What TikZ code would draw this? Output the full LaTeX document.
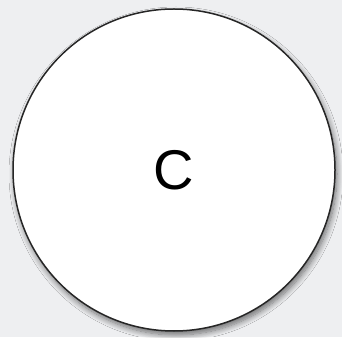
\documentclass[tikz,border=0pt]{standalone}
\usepackage{fontspec}
\setmainfont{Liberation Sans}
\usetikzlibrary{shadows.blur}
\definecolor{pagegray}{RGB}{238,239,241}
\tikzset{
  bubble/.style={circle, draw=black!85, line width=1.5pt, fill=white, minimum size=322pt, inner sep=0pt,
    blur shadow={shadow xshift=2pt, shadow yshift=-4pt, shadow blur steps=10, shadow opacity=55, shadow blur radius=6pt}}
}
\begin{document}
\begin{tikzpicture}[x=1pt, y=1pt]
\fill[pagegray] (0,0) rectangle (342,337);
\useasboundingbox (0,0) rectangle (342,337);

\node[bubble, font=\fontsize{56}{60}\selectfont] (c) at (174,167) {C};
\end{tikzpicture}
\end{document}
